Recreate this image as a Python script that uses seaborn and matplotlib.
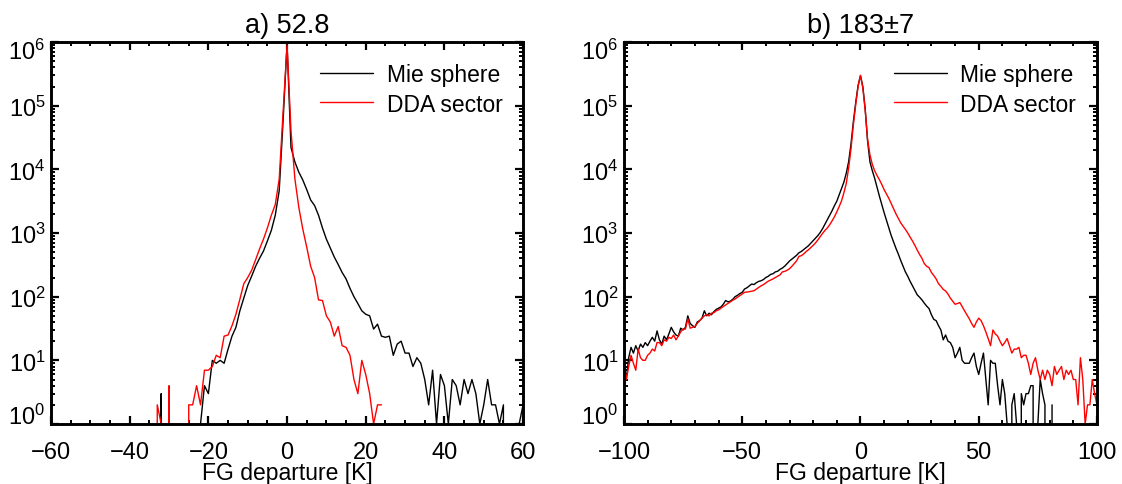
import numpy as np
import pandas as pd
import matplotlib
matplotlib.use("Agg")
import matplotlib.pyplot as plt
import matplotlib.transforms as mtransforms
import seaborn as sns
from matplotlib.ticker import MultipleLocator, FixedLocator, NullFormatter
from matplotlib.lines import Line2D

# ---------------- data ----------------
titles = ["a) 52.8", "b) 183\u00b17"]
series_names = ["Mie sphere", "DDA sector"]
xlabel = "FG departure [K]"

# panel a (1 K bins)
a_mie_x = list(range(-33, 61))
a_mie_y = [0, 3, 0, 3, 0, 0, 0, 0, 0, 0, 0, 1,          # -33 .. -22
           4, 3, 10, 9, 10, 9, 15, 24, 33, 60,          # -21 .. -12
           95, 150, 210, 300, 400, 520, 750, 1100, 1900, 4600, 60000,  # -11 .. -1
           950000,                                       # 0
           22000, 13000, 9000, 6800, 4800, 3300, 2700, 1900, 1200, 800,  # 1 .. 10
           580, 420, 320, 240, 190, 135, 100, 78, 60, 53,  # 11 .. 20
           50, 31, 37, 24, 23, 24, 12, 18, 20, 13,       # 21 .. 30
           13, 8, 11, 9, 5, 2, 7, 1, 6, 4,               # 31 .. 40
           1, 5, 4, 2, 5, 3, 5, 3, 1, 2,                 # 41 .. 50
           5, 2, 2, 1, 2, 0, 0, 0, 1, 2]                 # 51 .. 60
a_dda_x = list(range(-34, 25))
a_dda_y = [0, 2, 1, 0, 4, 0, 0, 0, 0, 2, 2, 4, 2,       # -34 .. -22
           7, 7, 8, 12, 11, 24, 25, 35, 53, 91,         # -21 .. -12
           160, 200, 260, 380, 560, 800, 1200, 1900, 2800, 7000, 80000,  # -11 .. -1
           900000,                                       # 0
           40000, 7000, 2500, 1150, 600, 300, 200, 89, 87, 50,  # 1 .. 10
           40, 24, 34, 17, 16, 12, 5, 3, 10, 6,          # 11 .. 20
           3, 1, 2, 2]                                   # 21 .. 24

# panel b (1 K bins)
b_mie_x = list(range(-100, 82))
b_mie_y = [9, 5, 11, 16, 13, 17, 14, 18, 16, 19,         # -100 .. -91
           17, 20, 23, 20, 29, 21, 18, 24, 21, 26,       # -90 .. -81
           33, 28, 25, 24, 32, 30, 33, 50, 38, 35,       # -80 .. -71
           33, 40, 42, 46, 60, 50, 55, 52, 58, 63,       # -70 .. -61
           66, 69, 76, 87, 83, 85, 91, 100, 105, 112,    # -60 .. -51
           117, 132, 138, 148, 158, 155, 166, 174, 178, 186,  # -50 .. -41
           200, 209, 224, 229, 245, 251, 269, 282, 302, 331,  # -40 .. -31
           363, 389, 417, 447, 490, 513, 550, 589, 631, 692,  # -30 .. -21
           759, 832, 912, 1023, 1175, 1380, 1622, 1905, 2239, 2692,  # -20 .. -11
           3162, 3981, 5012, 6310, 8710, 13183, 25119, 56234, 112202, 208930,  # -10 .. -1
           295121,                                        # 0
           199526, 89125, 28184, 13183, 9550, 7244, 5248, 3802, 2818, 2089,  # 1 .. 10
           1585, 1202, 912, 724, 575, 468, 372, 302, 245, 209,  # 11 .. 20
           174, 148, 126, 107, 98, 89, 79, 71, 65, 52,   # 21 .. 30
           44, 42, 35, 30, 21, 25, 20, 19, 16, 11,       # 31 .. 40
           13, 16, 10, 9, 9, 9, 11, 13, 8, 6,            # 41 .. 50
           9, 13, 5, 2, 10, 9, 9, 4, 2, 5,               # 51 .. 60
           3, 1, 0, 2, 3, 1, 0, 3, 2, 3,                 # 61 .. 70
           3, 4, 4, 0, 1, 5, 3, 2, 0, 0, 2]              # 71 .. 81
b_dda_x = list(range(-100, 101))
b_dda_y = [9, 5, 8, 12, 9, 7, 15, 11, 10, 10,            # -100 .. -91
           12, 13, 15, 14, 19, 19, 17, 21, 20, 23,       # -90 .. -81
           22, 25, 21, 24, 28, 31, 31, 45, 32, 33,       # -80 .. -71
           34, 38, 42, 46, 50, 52, 50, 55, 56, 60,       # -70 .. -61
           62, 66, 70, 74, 78, 83, 88, 92, 98, 104,      # -60 .. -51
           110, 117, 118, 120, 122, 124, 132, 140, 148, 155,  # -50 .. -41
           165, 175, 182, 190, 200, 210, 220, 245, 250, 260,  # -40 .. -31
           275, 300, 330, 365, 430, 440, 470, 510, 545, 590,  # -30 .. -21
           640, 700, 780, 880, 990, 1100, 1200, 1350, 1550, 1800,  # -20 .. -11
           2150, 2600, 3200, 4300, 6000, 10500, 21000, 50000, 105000, 200000,  # -10 .. -1
           300000,                                        # 0
           190000, 85000, 30000, 17000, 12000, 9500, 8000, 6900, 5800, 4800,  # 1 .. 10
           4100, 3500, 2900, 2400, 2000, 1700, 1450, 1280, 1140, 1000,  # 11 .. 20
           860, 750, 640, 540, 460, 400, 330, 300, 285, 240,  # 21 .. 30
           215, 190, 160, 145, 130, 123, 110, 95, 85, 76,  # 31 .. 40
           78, 81, 70, 60, 52, 45, 38, 33, 40, 46,       # 41 .. 50
           42, 35, 28, 22, 17, 30, 26, 24, 20, 17,       # 51 .. 60
           19, 22, 17, 13, 15, 15, 16, 11, 12, 12,       # 61 .. 70
           9, 6, 9, 11, 7, 5, 7, 5, 7, 6,                # 71 .. 80
           4, 8, 6, 7, 8, 5, 7, 6, 7, 5,                 # 81 .. 90
           5, 2, 11, 5, 1, 2, 2, 5, 3, 2]                # 91 .. 100

a_xlim = (-60, 60)
b_xlim = (-100, 100)
a_xmajor, a_xminor = 20, 5
b_xmajor, b_xminor = 50, 10
ylim = (1, 1e6)
y_decades = [1e0, 1e1, 1e2, 1e3, 1e4, 1e5, 1e6]

# ---------------- style ----------------
sns.set_style("ticks")
plt.rcParams['font.family'] = ['Liberation Sans', 'DejaVu Sans']
plt.rcParams['mathtext.default'] = 'regular'
for k in ['text.color', 'axes.labelcolor', 'xtick.color', 'ytick.color', 'axes.edgecolor']:
    plt.rcParams[k] = 'black'

fig = plt.figure(figsize=(11.22, 4.85), dpi=100)
ax_a = fig.add_axes([0.0455, 0.1237, 0.4207, 0.7876])
ax_b = fig.add_axes([0.5561, 0.1237, 0.4216, 0.7876])

palette = {series_names[0]: "black", series_names[1]: "red"}


def make_df(mx, my, dx, dy):
    d1 = pd.DataFrame({"x": mx, "y": my, "s": series_names[0]})
    d2 = pd.DataFrame({"x": dx, "y": dy, "s": series_names[1]})
    return pd.concat([d1, d2], ignore_index=True)


panels = [
    (ax_a, make_df(a_mie_x, a_mie_y, a_dda_x, a_dda_y), titles[0], a_xlim, a_xmajor, a_xminor),
    (ax_b, make_df(b_mie_x, b_mie_y, b_dda_x, b_dda_y), titles[1], b_xlim, b_xmajor, b_xminor),
]

YLAB_SIZE = 17
minor_y = [d * m for d in y_decades[:-1] for m in range(2, 10)]

for ax, df, title, xlim, xmaj, xmin in panels:
    sns.lineplot(data=df, x="x", y="y", hue="s", palette=palette,
                 estimator=None, sort=False, linewidth=1.0, ax=ax, legend=False)
    ax.set_yscale("log", nonpositive="clip")
    ax.set_xlim(*xlim)
    ax.set_ylim(*ylim)
    ax.xaxis.set_major_locator(MultipleLocator(xmaj))
    ax.xaxis.set_minor_locator(MultipleLocator(xmin))
    ax.yaxis.set_major_locator(FixedLocator(y_decades))
    ax.yaxis.set_minor_locator(FixedLocator(minor_y))
    ax.yaxis.set_minor_formatter(NullFormatter())
    for sp in ax.spines.values():
        sp.set_visible(True)
        sp.set_linewidth(2.1)
        sp.set_color("black")
    ax.tick_params(which="both", direction="in", top=True, right=True, color="black")
    ax.tick_params(which="major", length=6, width=1.6)
    ax.tick_params(which="minor", length=3.2, width=1.4)
    ax.tick_params(axis="x", which="major", labelsize=17, pad=12)
    ax.tick_params(axis="y", which="major", labelsize=YLAB_SIZE, pad=4)
    ax.set_xlabel(xlabel, fontsize=16.5, labelpad=-1.5)
    ax.set_ylabel("")
    ax.set_title(title, fontsize=19.5, pad=7)
    handles = [Line2D([], [], color="black", lw=1.0), Line2D([], [], color="red", lw=1.0)]
    ax.legend(handles, series_names, loc="upper right", frameon=False, fontsize=16.5,
              handlelength=2.3, handletextpad=0.6, labelspacing=0.3,
              borderaxespad=0.5, borderpad=0.4)
    ax.grid(False)

fig.canvas.draw()
cap = 0.72 * YLAB_SIZE / 72.0
for ax in (ax_a, ax_b):
    for tick in ax.yaxis.get_major_ticks():
        v = tick.get_loc()
        lab = tick.label1
        if np.isclose(v, ylim[0]):
            lab.set_verticalalignment("baseline")
        elif np.isclose(v, ylim[1]):
            lab.set_verticalalignment("baseline")
            lab.set_transform(lab.get_transform() +
                              mtransforms.ScaledTranslation(0, -cap, fig.dpi_scale_trans))

fig.savefig("out.png", dpi=100)
